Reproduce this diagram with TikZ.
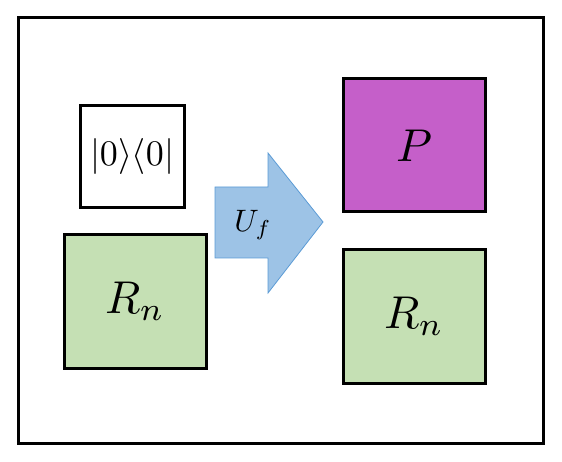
\documentclass[tikz,border=0pt]{standalone}
\usepackage{amsmath,amssymb}
\usepackage{graphicx}
\usepackage{xcolor}
\usepackage{tikz}
\definecolor{regreen}{HTML}{C5E0B4}
\definecolor{projmag}{HTML}{C55FC9}
\definecolor{arrblue}{HTML}{9DC3E6}
\definecolor{arredge}{HTML}{5B9BD5}

\begin{document}
\begin{tikzpicture}[x=1pt,y=-1pt,
  box/.style={draw,line width=3pt,inner sep=0pt}]
\useasboundingbox (0,0) rectangle (562,462);
\draw[line width=3pt] (18,18) rectangle (543,443);
\node[box,minimum width=104pt,minimum height=102pt] (ket) at (132,157) {\scalebox{3.6}{$\lvert 0\rangle\langle 0\rvert$}};
\node[box,fill=regreen,minimum width=142pt,minimum height=133pt] (rleft) at (135,301.5) {\scalebox{4.6}{$R_n$}};
\fill[arrblue,draw=arredge,line width=0.8pt] (215,187)--(268,187)--(268,153)--(323,222)--(268,293)--(268,258)--(215,258)--cycle;
\node (uf) at (253,225) {\scalebox{3.1}{$U_f$}};
\node[box,fill=projmag,minimum width=142pt,minimum height=133pt] (proj) at (414,145.5) {\scalebox{4.6}{$P$}};
\node[box,fill=regreen,minimum width=142pt,minimum height=133pt] (rright) at (414,316.5) {\scalebox{4.6}{$R_n$}};
\end{tikzpicture}
\end{document}
